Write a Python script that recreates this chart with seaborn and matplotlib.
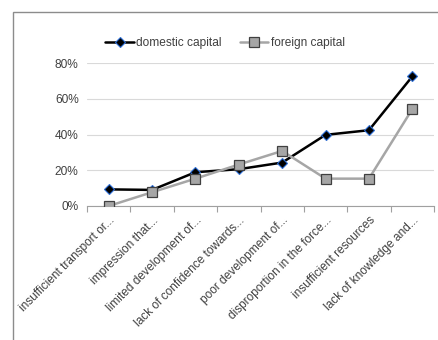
import matplotlib
matplotlib.use("Agg")
import matplotlib.pyplot as plt
import seaborn as sns
import pandas as pd
import numpy as np
from matplotlib.patches import Rectangle
from matplotlib.ticker import PercentFormatter, FixedLocator

categories = [
    "insufficient transport or...",
    "impression that...",
    "limited development of...",
    "lack of confidence towards...",
    "poor development of...",
    "disproportion in the force...",
    "insufficient resources",
    "lack of knowledge and...",
]
domestic = [0.093, 0.090, 0.189, 0.206, 0.243, 0.398, 0.424, 0.725]
foreign = [0.0, 0.077, 0.153, 0.232, 0.308, 0.153, 0.153, 0.542]
series_names = ["domestic capital", "foreign capital"]

sns.set_theme(style="white")
plt.rcParams["font.family"] = ["Liberation Sans", "DejaVu Sans"]

fig = plt.figure(figsize=(4.38, 3.40), dpi=100)
W, H = 438, 340
ax = fig.add_axes([87 / W, 1 - 206 / H, (434 - 87) / W, (206 - 63) / H])

fig.patches.append(Rectangle((13 / W, -0.1), 1.2, 1 - 12 / H + 0.1,
                             transform=fig.transFigure, fill=False,
                             edgecolor="#8c8c8c", linewidth=1.0))

x = np.arange(len(categories))
df_d = pd.DataFrame({"x": x, "y": domestic})
df_f = pd.DataFrame({"x": x, "y": foreign})

sns.lineplot(data=df_d, x="x", y="y", ax=ax, color="black", linewidth=1.8,
             marker="D", markersize=5.5, markerfacecolor="black",
             markeredgecolor="#2e6fd6", markeredgewidth=0.8,
             label=series_names[0], zorder=3)
sns.lineplot(data=df_f, x="x", y="y", ax=ax, color="#a6a6a6", linewidth=1.8,
             marker="s", markersize=7.5, markerfacecolor="#a6a6a6",
             markeredgecolor="#404040", markeredgewidth=0.9,
             label=series_names[1], zorder=4)

ax.set_xlim(-0.5, len(categories) - 0.5)
ax.set_ylim(0, 0.8)
ax.set_yticks([0, 0.2, 0.4, 0.6, 0.8])
ax.yaxis.set_major_formatter(PercentFormatter(1.0, decimals=0))
ax.set_xticks(x)
ax.set_xticklabels(categories, rotation=45, ha="right", rotation_mode="anchor",
                   fontsize=8.6, color="#404040")
ax.xaxis.set_minor_locator(FixedLocator(np.arange(-0.5, len(categories), 1.0)))
ax.tick_params(axis="x", which="major", length=0, pad=6)
ax.tick_params(axis="x", which="minor", length=4, color="#a0a0a0", width=0.8, bottom=True)
ax.tick_params(axis="y", length=0, labelsize=8.6, labelcolor="#404040", pad=6)
ax.set_xlabel("")
ax.set_ylabel("")
ax.grid(axis="y", color="#d9d9d9", linewidth=0.8)
ax.set_axisbelow(True)
for s in ["top", "right", "left"]:
    ax.spines[s].set_visible(False)
ax.spines["bottom"].set_color("#a0a0a0")
ax.spines["bottom"].set_linewidth(0.8)

leg = ax.legend(loc="center", bbox_to_anchor=(225 / W, 1 - 43 / H),
                bbox_transform=fig.transFigure, ncol=2, frameon=False,
                fontsize=8.6, handlelength=2.4, columnspacing=1.5, handletextpad=0.2)
for t in leg.get_texts():
    t.set_color("#404040")

fig.savefig("out.png", dpi=100)
